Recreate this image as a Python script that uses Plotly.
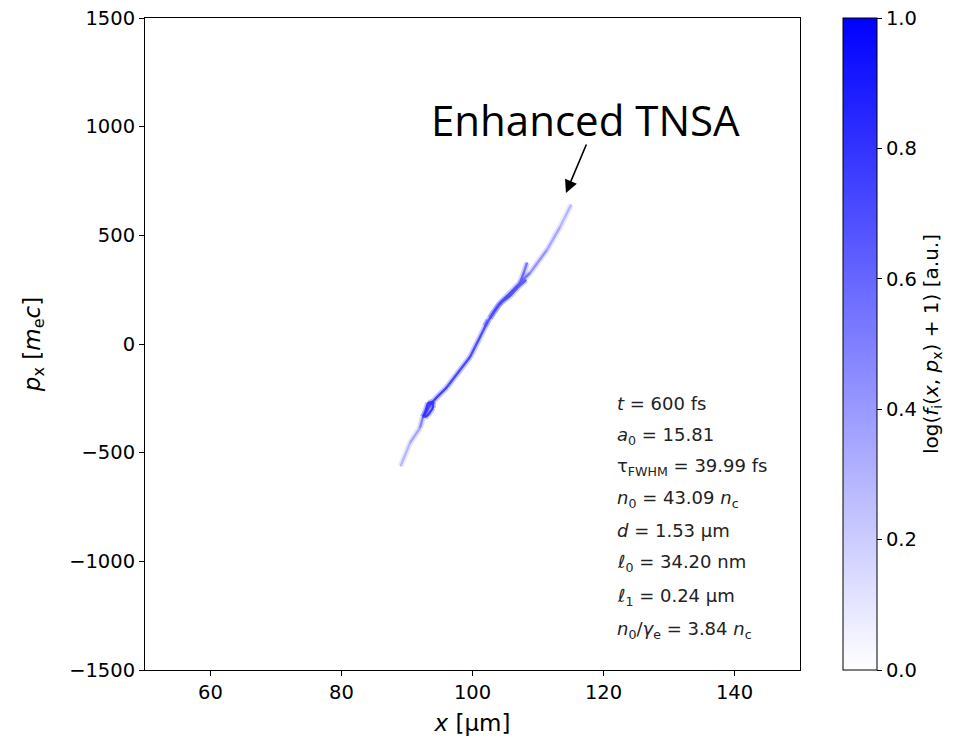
import plotly.graph_objects as go

# Ion phase-space (x, p_x) ridge, traced as strands of vertices with a
# normalised density value at each vertex.
main_x = [89.04, 90.46, 91.98, 92.44, 93.51, 94.58, 96.11, 98.09, 99.62, 101.15,
          102.21, 103.44, 104.66, 106.18, 107.25, 108.78, 111.37, 113.36, 115.04]
main_p = [-561, -455, -386, -336, -281, -244, -198, -120, -60, 32,
          97, 156, 202, 248, 281, 327, 433, 538, 640]
main_f = [0.28, 0.33, 0.42, 0.62, 0.8, 0.8, 0.78, 0.76, 0.76, 0.76,
          0.74, 0.74, 0.74, 0.72, 0.66, 0.5, 0.4, 0.34, 0.28]

braid_x = [102.67, 104.20, 105.73, 106.95, 108.17]
braid_p = [120, 189, 221, 262, 294]
braid_f = [0.7, 0.72, 0.72, 0.7, 0.62]

spur_x = [107.25, 107.86, 108.32]
spur_p = [281, 331, 373]
spur_f = [0.66, 0.62, 0.55]

loop_x = [92.44, 92.75, 93.21, 93.97, 93.97, 93.21, 92.75]
loop_p = [-336, -317, -271, -267, -294, -327, -336]
loop_f = [0.8, 0.82, 0.82, 0.8, 0.8, 0.82, 0.8]

bump_x = [101.91, 102.37]
bump_p = [83, 110]
bump_f = [0.7, 0.6]

strands = [
    (main_x, main_p, main_f),
    (braid_x, braid_p, braid_f),
    (spur_x, spur_p, spur_f),
    (loop_x, loop_p, loop_f),
    (bump_x, bump_p, bump_f),
]

# Simulation parameters shown in the legend block
param_lines = [
    "<i>t</i> = 600 fs",
    "<i>a</i><sub>0</sub> = 15.81",
    "τ<sub>FWHM</sub> = 39.99 fs",
    "<i>n</i><sub>0</sub> = 43.09 <i>n</i><sub>c</sub>",
    "<i>d</i> = 1.53 µm",
    "<i>ℓ</i><sub>0</sub> = 34.20 nm",
    "<i>ℓ</i><sub>1</sub> = 0.24 µm",
    "<i>n</i><sub>0</sub>/<i>γ</i><sub>e</sub> = 3.84 <i>n</i><sub>c</sub>",
]
param_p = [-272, -423, -566, -713, -860, -1008, -1164, -1316]
param_x = 121.75

x_ticks = [60, 80, 100, 120, 140]
p_ticks = [-1500, -1000, -500, 0, 500, 1000, 1500]
cbar_ticks = [0.0, 0.2, 0.4, 0.6, 0.8, 1.0]

colorscale = [[0.0, "rgb(255,255,255)"], [1.0, "rgb(0,0,255)"]]


def density_colour(v, alpha=1.0):
    c = int(round(255 * (1 - v)))
    return f"rgba({c},{c},255,{alpha})"


TICK_FONT = dict(family="DejaVu Sans", size=19.5, color="black")

fig = go.Figure()

for xs, ps, fs in strands:
    for i in range(len(xs) - 1):
        v = 0.5 * (fs[i] + fs[i + 1])
        seg_x = [xs[i], xs[i + 1]]
        seg_p = [ps[i], ps[i + 1]]
        # soft halo
        fig.add_trace(go.Scatter(x=seg_x, y=seg_p, mode="lines",
                                 line=dict(color=density_colour(v, 0.28), width=6),
                                 hoverinfo="skip", showlegend=False))
        # core
        fig.add_trace(go.Scatter(x=seg_x, y=seg_p, mode="lines",
                                 line=dict(color=density_colour(v, 0.9), width=2.4),
                                 hoverinfo="skip", showlegend=False))

# vertices carry the colour scale and its colour bar
all_x = [x for s in strands for x in s[0]]
all_p = [p for s in strands for p in s[1]]
all_f = [f for s in strands for f in s[2]]
fig.add_trace(go.Scatter(
    x=all_x, y=all_p, mode="markers",
    marker=dict(size=2, color=all_f, colorscale=colorscale, cmin=0, cmax=1,
                opacity=0.6, showscale=True,
                colorbar=dict(
                    x=843 / 964, xanchor="left", xref="container", xpad=0,
                    y=0.5, yanchor="middle", ypad=0, len=1.0, lenmode="fraction",
                    thickness=34, outlinewidth=1, outlinecolor="black",
                    ticks="outside", ticklen=5, tickwidth=1, tickcolor="black",
                    tickvals=cbar_ticks, tickformat=".1f",
                    tickfont=TICK_FONT,
                    title=dict(
                        text="log(<i>f</i><sub>i</sub>(<i>x</i>, <i>p</i><sub>x</sub>) + 1) [a.u.]",
                        side="right",
                        font=dict(family="DejaVu Sans", size=20, color="black")),
                )),
    hoverinfo="skip", showlegend=False))

for txt, p in zip(param_lines, param_p):
    fig.add_annotation(x=param_x, y=p, xref="x", yref="y", text=txt,
                       showarrow=False, xanchor="left", yanchor="middle",
                       font=dict(family="DejaVu Sans", size=18, color="#222222"))

# Label and arrow pointing at the high-energy tip
fig.add_annotation(x=117.3, y=1031, xref="x", yref="y", text="Enhanced TNSA",
                   showarrow=False, xanchor="center", yanchor="middle",
                   font=dict(family="Open Sans", size=42, color="black"))
fig.add_annotation(x=114.27, y=695, ax=117.48, ay=925, xref="x", yref="y",
                   axref="x", ayref="y", text="", showarrow=True,
                   arrowhead=2, arrowsize=1.6, arrowwidth=1.6, arrowcolor="black")

fig.update_xaxes(range=[50, 150], tickvals=x_ticks, ticks="outside", ticklen=5,
                 tickcolor="black", showline=True, linecolor="black", linewidth=1,
                 mirror=True, showgrid=False, zeroline=False, tickfont=TICK_FONT,
                 title=dict(text="<i>x</i> [µm]", standoff=11,
                            font=dict(family="DejaVu Sans", size=23, color="black")))
fig.update_yaxes(range=[-1500, 1500], tickvals=p_ticks, ticks="outside", ticklen=5,
                 tickcolor="black", showline=True, linecolor="black", linewidth=1,
                 mirror=True, showgrid=False, zeroline=False, tickfont=TICK_FONT,
                 title=dict(text="<i>p</i><sub>x</sub> [<i>m</i><sub>e</sub><i>c</i>]",
                            standoff=22,
                            font=dict(family="DejaVu Sans", size=23, color="black")))

fig.update_layout(width=964, height=744,
                  margin=dict(l=145, r=164, t=18, b=74, autoexpand=False),
                  plot_bgcolor="white", paper_bgcolor="white")

fig.write_html("out.html")
